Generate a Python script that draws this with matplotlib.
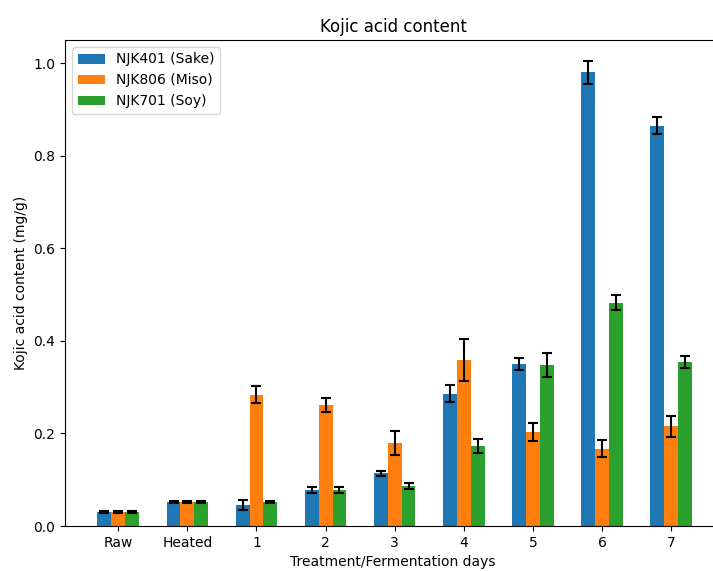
import numpy as np
import matplotlib.pyplot as plt

categories = ['Raw', 'Heated', '1', '2', '3', '4', '5', '6', '7']
labels = ['NJK401 (Sake)', 'NJK806 (Miso)', 'NJK701 (Soy)']

sake = [0.030, 0.052, 0.046, 0.078, 0.114, 0.286, 0.350, 0.980, 0.865]
sake_err = [0.002, 0.002, 0.011, 0.006, 0.005, 0.018, 0.014, 0.025, 0.018]
miso = [0.030, 0.052, 0.284, 0.262, 0.179, 0.359, 0.203, 0.167, 0.215]
miso_err = [0.002, 0.002, 0.018, 0.015, 0.026, 0.046, 0.020, 0.019, 0.022]
soy = [0.030, 0.052, 0.052, 0.078, 0.087, 0.172, 0.347, 0.482, 0.354]
soy_err = [0.002, 0.002, 0.002, 0.007, 0.006, 0.015, 0.026, 0.016, 0.013]

fig = plt.figure(figsize=(7.13, 5.71), dpi=100)
ax = fig.add_axes([65/713, 45/571, 656/713, 486/571])

x = np.arange(len(categories))
w = 0.2
for i, (vals, errs, lab) in enumerate([(sake, sake_err, labels[0]),
                                        (miso, miso_err, labels[1]),
                                        (soy, soy_err, labels[2])]):
    ax.bar(x + (i - 1) * w, vals, w, yerr=errs, capsize=3.5, label=lab,
           error_kw=dict(elinewidth=1.5, capthick=1.5))

ax.set_xticks(x)
ax.set_xticklabels(categories)
ax.set_xlim(-0.77, 8.72)
ax.set_xlabel('Treatment/Fermentation days')
ax.set_ylabel('Kojic acid content (mg/g)')
ax.set_title('Kojic acid content')
ax.set_ylim(0, 1.05)
ax.legend(loc='upper left')

fig.savefig('out.png', dpi=100)
